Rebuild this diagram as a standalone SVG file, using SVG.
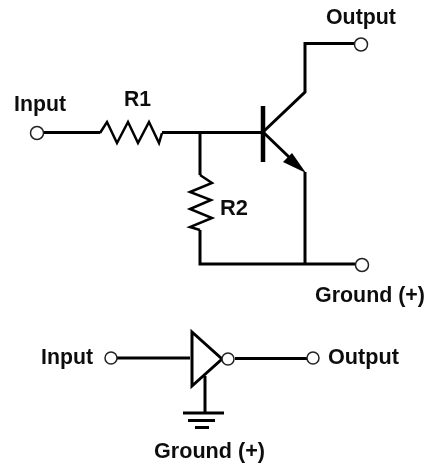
<svg xmlns="http://www.w3.org/2000/svg" width="427" height="465" viewBox="0 0 427 465">
<style>
.w{fill:none;stroke:#000;stroke-width:3;stroke-linejoin:miter}
.t{fill:none;stroke:#000;stroke-width:2.500}
.p{fill:#fff;stroke:#222;stroke-width:1.500}
text{font-family:"Liberation Sans",Arial,sans-serif;font-size:22px;font-weight:bold;fill:#111}
</style>
<defs><filter id="soft" x="0" y="0" width="1" height="1"><feGaussianBlur stdDeviation="0.4"/></filter></defs>
<rect width="427" height="465" fill="#fff"/>
<g filter="url(#soft)">
<g id="connectors">
<path class="w" d="M44 132.500H100"/>
<path class="w" d="M162 132.500H263"/>
<path class="w" d="M200 132.500V175"/>
<path class="w" d="M200 230V264H355"/>
<path class="w" d="M305 172V264"/>
<path class="w" d="M263 132L305 92V43.500H355"/>
<path class="w" d="M263 132L290 158"/>
<path class="w" d="M117 358H190"/>
<path class="w" d="M235 358.500H307"/>
<path class="w" d="M205 376V413"/>
</g>
<g id="R1"><path class="t" d="M100 133L107 122L117 143L128 122L138 143L149 122L159 143L162 133"/><text x="124" y="106" textLength="27" lengthAdjust="spacingAndGlyphs">R1</text></g>
<g id="R2"><path class="t" d="M200 175L212 183L190 192L211 200L190 209L212 218L190 227L200 230"/><text x="220" y="215" textLength="28" lengthAdjust="spacingAndGlyphs">R2</text></g>
<g id="transistor"><path d="M263 106V162" fill="none" stroke="#000" stroke-width="4.500"/><path d="M306 173L283 162L292 153Z" fill="#000"/></g>
<g id="input-top"><circle class="p" cx="37" cy="133" r="6.500"/><text x="14" y="111" textLength="52" lengthAdjust="spacingAndGlyphs">Input</text></g>
<g id="output-top"><circle class="p" cx="361" cy="44.500" r="6.500"/><text x="326" y="24" textLength="70" lengthAdjust="spacingAndGlyphs">Output</text></g>
<g id="ground-top"><circle class="p" cx="362" cy="265" r="6.500"/><text x="315" y="302" textLength="110" lengthAdjust="spacingAndGlyphs">Ground (+)</text></g>
<g id="input-bottom"><circle class="p" cx="111" cy="358" r="6"/><text x="41" y="364" textLength="52" lengthAdjust="spacingAndGlyphs">Input</text></g>
<g id="inverter"><path d="M192 332V386L222 359Z" fill="#fff" stroke="#000" stroke-width="3"/><circle class="p" cx="228" cy="359" r="6"/></g>
<g id="output-bottom"><circle class="p" cx="313" cy="358" r="6"/><text x="328" y="364" textLength="71" lengthAdjust="spacingAndGlyphs">Output</text></g>
<g id="ground-bottom"><path d="M183 413H224M188 420.500H215M195 427.500H209" fill="none" stroke="#000" stroke-width="3"/><text x="154" y="458" textLength="111" lengthAdjust="spacingAndGlyphs">Ground (+)</text></g>
</g>
</svg>
